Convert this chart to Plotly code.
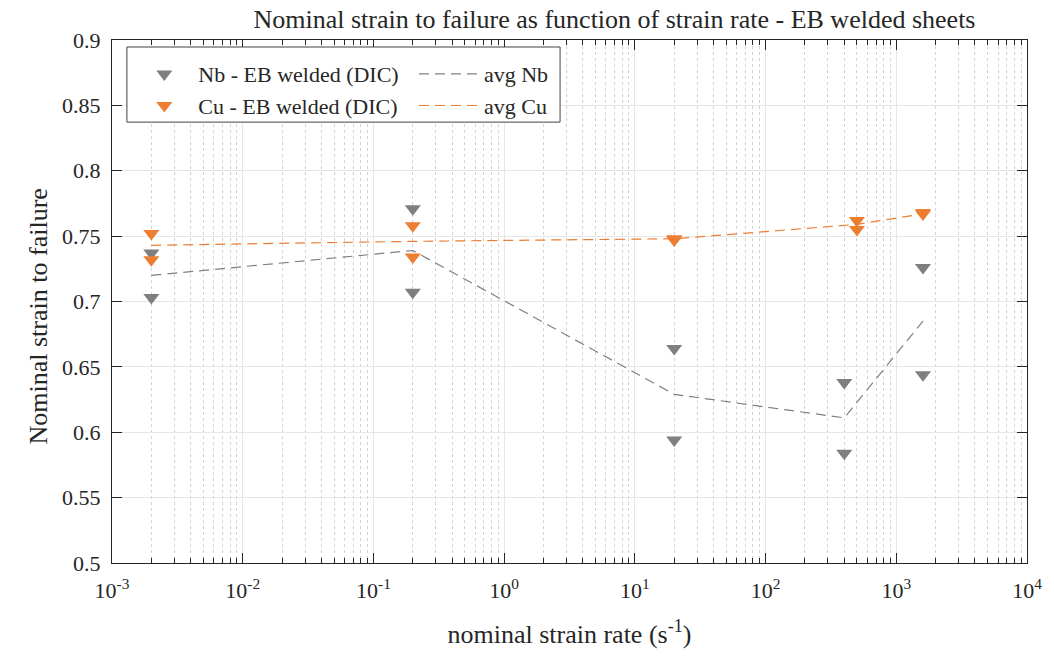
import plotly.graph_objects as go

# ---- data ----
nb_rate = [0.002, 0.002, 0.2, 0.2, 20, 20, 400, 400, 1600, 1600]
nb_strain = [0.737, 0.703, 0.771, 0.707, 0.664, 0.594, 0.638, 0.584, 0.726, 0.644]
cu_rate = [0.002, 0.002, 0.2, 0.2, 20, 20, 500, 500, 1600, 1600]
cu_strain = [0.752, 0.732, 0.758, 0.734, 0.747, 0.748, 0.762, 0.755, 0.767, 0.768]
avg_nb_rate = [0.002, 0.2, 20, 400, 1600]
avg_nb = [0.720, 0.739, 0.629, 0.611, 0.685]
avg_cu_rate = [0.002, 0.2, 20, 500, 1600]
avg_cu = [0.743, 0.746, 0.748, 0.759, 0.767]

x_tickvals = [1e-3, 1e-2, 1e-1, 1e0, 1e1, 1e2, 1e3, 1e4]
x_ticktext = ["10<sup>-3</sup>", "10<sup>-2</sup>", "10<sup>-1</sup>", "10<sup>0</sup>",
              "10<sup>1</sup>", "10<sup>2</sup>", "10<sup>3</sup>", "10<sup>4</sup>"]
y_tickvals = [0.5, 0.55, 0.6, 0.65, 0.7, 0.75, 0.8, 0.85, 0.9]
y_ticktext = ["0.5", "0.55", "0.6", "0.65", "0.7", "0.75", "0.8", "0.85", "0.9"]

# minor (2..9 within each decade) grid positions for the log axis
x_minor = [m * 10.0 ** e for e in range(-3, 4) for m in range(2, 10)]

GRAY = "#7F7F7F"
ORANGE = "#ED7D31"
FONT = "Times New Roman"
TXT = "#262626"

fig = go.Figure()
fig.add_trace(go.Scatter(x=nb_rate, y=nb_strain, mode="markers", name="Nb - EB welded (DIC)",
                         marker=dict(symbol="triangle-down", size=14, color=GRAY), legend="legend"))
fig.add_trace(go.Scatter(x=cu_rate, y=cu_strain, mode="markers", name="Cu - EB welded (DIC)",
                         marker=dict(symbol="triangle-down", size=14, color=ORANGE), legend="legend"))
fig.add_trace(go.Scatter(x=avg_nb_rate, y=avg_nb, mode="lines", name="avg Nb",
                         line=dict(color=GRAY, width=1.2, dash="10px,6px"), legend="legend2"))
fig.add_trace(go.Scatter(x=avg_cu_rate, y=avg_cu, mode="lines", name="avg Cu",
                         line=dict(color=ORANGE, width=1.2, dash="10px,6px"), legend="legend2"))

axis_common = dict(showline=True, linecolor="#262626", linewidth=1, mirror="allticks",
                   ticks="inside", tickcolor="#262626", zeroline=False,
                   gridcolor="#E6E6E6", gridwidth=1,
                   tickfont=dict(family=FONT, size=22, color=TXT))

fig.update_xaxes(type="log", range=[-3, 4], tickvals=x_tickvals, ticktext=x_ticktext,
                 ticklen=10, ticklabelstandoff=8,
                 minor=dict(tickvals=x_minor, ticks="inside", ticklen=5, tickcolor="#262626",
                            showgrid=True, gridcolor="#D2D2D2", griddash="dot", gridwidth=1),
                 title=dict(text="nominal strain rate (s<sup>-1</sup>)",
                            font=dict(family=FONT, size=26, color=TXT), standoff=22),
                 **axis_common)
fig.update_yaxes(range=[0.5, 0.9], tickvals=y_tickvals, ticktext=y_ticktext, ticklen=10,
                 ticklabelstandoff=6, **axis_common)

fig.add_annotation(text="Nominal strain to failure", xref="paper", yref="paper",
                   x=(38 - 112) / 921, y=1 - (316 - 40) / 523, xanchor="center", yanchor="middle",
                   textangle=-90, showarrow=False, font=dict(family=FONT, size=26, color=TXT))

fig.add_shape(type="rect", xref="paper", yref="paper", x0=0.0163, x1=0.4897, y0=0.843, y1=0.9866,
              line=dict(color="#444", width=1), fillcolor="white", layer="above")

fig.update_layout(
    width=1054, height=658,
    margin=dict(l=112, r=21, t=40, b=95),
    plot_bgcolor="white", paper_bgcolor="white",
    font=dict(family=FONT, size=22, color=TXT),
    title=dict(text="Nominal strain to failure as function of strain rate - EB welded sheets",
               x=0.583, xanchor="center", y=0.972, yanchor="middle",
               font=dict(family=FONT, size=26, color=TXT)),
    legend=dict(x=0.02, y=0.975, xanchor="left", yanchor="top", bgcolor="rgba(0,0,0,0)",
                itemwidth=58, font=dict(family=FONT, size=22, color=TXT), tracegroupgap=0),
    legend2=dict(x=0.33, y=0.975, xanchor="left", yanchor="top", bgcolor="rgba(0,0,0,0)",
                 itemwidth=60, font=dict(family=FONT, size=22, color=TXT), tracegroupgap=0),
    showlegend=True,
)

fig.write_html("out.html")
